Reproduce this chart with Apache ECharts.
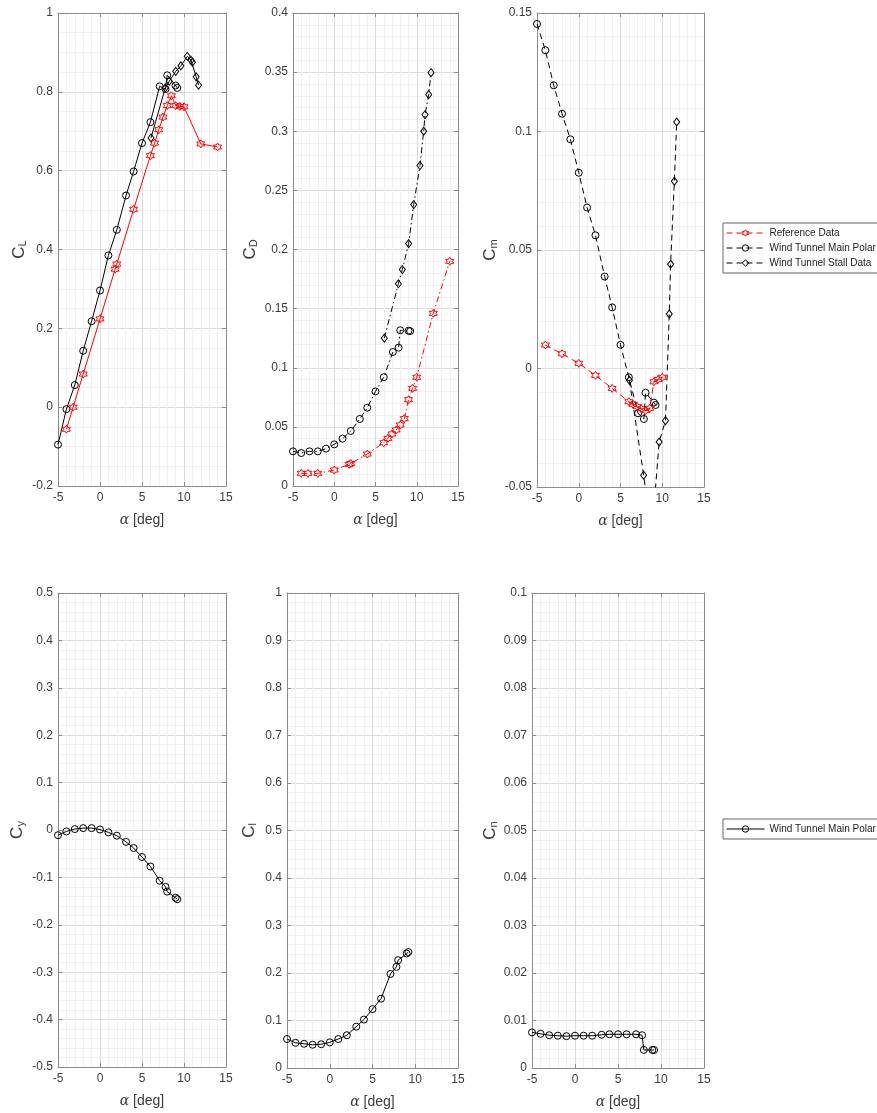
<!DOCTYPE html>
<html>
<head>
<meta charset="utf-8">
<script src="https://cdn.jsdelivr.net/npm/echarts@6/dist/echarts.min.js"></script>
<style>
  html, body { margin: 0; padding: 0; background: #fff; }
  #chart { width: 877px; height: 1113px; }
</style>
</head>
<body>
<div id="chart"></div>
<script>
// angle of attack, main polar
const alphaMain = [-5, -4, -3, -2, -1, 0, 1, 2, 3.1, 4, 5, 6, 7.1, 7.8, 8, 9, 9.2];
const liftMain = [-0.095, -0.005, 0.056, 0.143, 0.218, 0.296, 0.385, 0.45, 0.537, 0.598, 0.67, 0.723, 0.814, 0.807, 0.842, 0.816, 0.81];
const dragMain = [0.0293, 0.0279, 0.0293, 0.0293, 0.0316, 0.0352, 0.040, 0.0465, 0.0567, 0.0662, 0.080, 0.092, 0.1133, 0.117, 0.1317, 0.1313, 0.131];
const pitchMain = [0.1454, 0.1343, 0.1195, 0.1075, 0.0967, 0.0826, 0.0679, 0.0562, 0.0388, 0.0258, 0.010, -0.0037, -0.0189, -0.0213, -0.0102, -0.0144, -0.0154];
const sideMain = [-0.011, -0.003, 0.002, 0.004, 0.004, 0.001, -0.005, -0.012, -0.025, -0.038, -0.057, -0.077, -0.107, -0.12, -0.13, -0.143, -0.146];
const rollMain = [0.061, 0.053, 0.051, 0.049, 0.050, 0.054, 0.061, 0.069, 0.087, 0.102, 0.124, 0.146, 0.198, 0.213, 0.227, 0.241, 0.244];
const yawMain = [0.0075, 0.0072, 0.0069, 0.0068, 0.0067, 0.0068, 0.0068, 0.0068, 0.007, 0.0071, 0.0071, 0.0071, 0.0071, 0.0069, 0.0038, 0.0038, 0.0038];

// stall data
const alphaStall = [6.07, 7.77, 8.25, 9.02, 9.63, 10.39, 10.84, 11.0, 11.45, 11.73];
const liftStall = [0.683, 0.81, 0.827, 0.852, 0.866, 0.89, 0.88, 0.875, 0.838, 0.817];
const dragStall = [0.125, 0.171, 0.183, 0.205, 0.238, 0.271, 0.300, 0.314, 0.331, 0.3495];
const pitchStall = [-0.005, -0.045, -0.058, -0.058, -0.031, -0.022, 0.023, 0.044, 0.079, 0.104];

// reference data
const alphaRef = [-4, -3.2, -2, 0, 1.8, 2, 4, 6, 6.5, 7, 7.5, 8, 8.5, 9, 9.5, 10, 12, 14];
const liftRef = [-0.056, 0, 0.084, 0.224, 0.35, 0.363, 0.502, 0.638, 0.67, 0.704, 0.736, 0.765, 0.79, 0.765, 0.763, 0.762, 0.668, 0.66];
const dragRef = [0.0107, 0.0107, 0.0107, 0.0135, 0.0183, 0.019, 0.027, 0.0366, 0.0403, 0.044, 0.0474, 0.0516, 0.057, 0.073, 0.0826, 0.092, 0.146, 0.19];
const alphaRefCm = [-4, -2, 0, 2, 4, 6, 6.5, 7, 7.5, 8, 8.5, 9, 9.5, 10];
const pitchRef = [0.0099, 0.0062, 0.0022, -0.0029, -0.0084, -0.014, -0.0151, -0.0161, -0.017, -0.0178, -0.0168, -0.0056, -0.0046, -0.0037];

const REF = 'Reference Data';
const MAIN = 'Wind Tunnel Main Polar';
const STALL = 'Wind Tunnel Stall Data';

const FONT = 'Liberation Sans';
const AXIS_COLOR = '#8c8c8c';
const HEXAGRAM = 'path://M50,0L64.4,25L93.3,25L78.9,50L93.3,75L64.4,75L50,100L35.6,75L6.7,75L21.1,50L6.7,25L35.6,25Z';
const DASH = [6, 4];
const DASHDOT = [6, 3, 1.5, 3];

const pairs = (xs, ys) => xs.map((x, i) => [x, ys[i]]);

// panels: grid box, y range, label subscript
const panels = [
  { box: { left: 58, top: 13, width: 168, height: 473 }, min: -0.2, max: 1, interval: 0.2, minor: 4, sub: 'L', gap: 30 },
  { box: { left: 293, top: 13, width: 165, height: 473 }, min: 0, max: 0.4, interval: 0.05, minor: 5, sub: 'D', gap: 34 },
  { box: { left: 537, top: 13, width: 167, height: 474 }, min: -0.05, max: 0.15, interval: 0.05, minor: 5, sub: 'm', gap: 38 },
  { box: { left: 58, top: 593, width: 168, height: 474 }, min: -0.5, max: 0.5, interval: 0.1, minor: 5, sub: 'y', gap: 32 },
  { box: { left: 287, top: 593, width: 171, height: 475 }, min: 0, max: 1, interval: 0.1, minor: 5, sub: 'l', gap: 29 },
  { box: { left: 532, top: 593, width: 172, height: 475 }, min: 0, max: 0.1, interval: 0.01, minor: 5, sub: 'n', gap: 33 }
];

const makeXAxis = (g, top) => ({
  type: 'value', gridIndex: g, min: -5, max: 15, interval: 5,
  position: top ? 'top' : 'bottom',
  axisLine: { show: true, onZero: false, lineStyle: { color: AXIS_COLOR } },
  axisTick: { show: true, inside: true, length: 4, lineStyle: { color: AXIS_COLOR } },
  axisLabel: { show: !top, color: '#3c3c3c', fontSize: 12, fontFamily: FONT, margin: 6 },
  splitLine: { show: !top, lineStyle: { color: '#dcdcdc' } },
  minorTick: { show: false, splitNumber: 5 },
  minorSplitLine: { show: !top, lineStyle: { color: '#f0f0f0' } },
  name: top ? '' : '{a|α} [deg]',
  nameLocation: 'middle',
  nameGap: 27,
  nameTextStyle: {
    color: '#3c3c3c', fontSize: 14, fontFamily: FONT,
    rich: { a: { fontFamily: 'DejaVu Serif', fontStyle: 'italic', fontSize: 14, color: '#3c3c3c' } }
  }
});

const makeYAxis = (g, p, right) => ({
  type: 'value', gridIndex: g, min: p.min, max: p.max, interval: p.interval,
  position: right ? 'right' : 'left',
  axisLine: { show: true, onZero: false, lineStyle: { color: AXIS_COLOR } },
  axisTick: { show: true, inside: true, length: 4, lineStyle: { color: AXIS_COLOR } },
  axisLabel: { show: !right, color: '#3c3c3c', fontSize: 12, fontFamily: FONT, margin: 5 },
  splitLine: { show: !right, lineStyle: { color: '#dcdcdc' } },
  minorTick: { show: false, splitNumber: p.minor },
  minorSplitLine: { show: !right, lineStyle: { color: '#f0f0f0' } },
  name: right ? '' : '{c|C}{s|' + p.sub + '}',
  nameLocation: 'middle',
  nameRotate: 90,
  nameGap: p.gap,
  nameTextStyle: {
    rich: {
      c: { fontSize: 17, lineHeight: 17, verticalAlign: 'top', color: '#3c3c3c', fontFamily: FONT },
      s: { fontSize: 11, lineHeight: 11, verticalAlign: 'bottom', padding: [11, 0, 0, 0], color: '#3c3c3c', fontFamily: FONT }
    }
  }
});

const series = (name, g, data, color, symbol, size, dash) => ({
  type: 'line', name, xAxisIndex: 2 * g, yAxisIndex: 2 * g, data,
  symbol, symbolSize: size, showAllSymbol: true, clip: true,
  lineStyle: { color, width: 1, type: dash },
  itemStyle: { color: 'rgba(0,0,0,0)', borderColor: color, borderWidth: 1 },
  emphasis: { disabled: true },
  z: name === REF ? 3 : 2
});

const legendItem = (name, type) => ({
  name,
  lineStyle: { type, width: 1 },
  itemStyle: { borderWidth: 1 }
});

const getOptions = () => {
  const xAxis = [];
  const yAxis = [];
  panels.forEach((p, g) => {
    xAxis.push(makeXAxis(g, false), makeXAxis(g, true));
    yAxis.push(makeYAxis(g, p, false), makeYAxis(g, p, true));
  });
  return {
    animation: false,
    backgroundColor: '#fff',
    grid: panels.map(p => Object.assign({ containLabel: false }, p.box)),
    xAxis,
    yAxis,
    legend: [
      {
        left: 723, top: 223, orient: 'vertical', selectedMode: false,
        itemWidth: 38, itemHeight: 8, itemGap: 5,
        padding: [5, 6, 5, 3],
        borderColor: '#666', borderWidth: 1,
        textStyle: { fontSize: 10, fontFamily: FONT, color: '#222' },
        data: [legendItem(REF, DASH), legendItem(MAIN, DASH), legendItem(STALL, DASH)]
      },
      {
        left: 723, top: 819, orient: 'vertical', selectedMode: false,
        itemWidth: 38, itemHeight: 8,
        padding: [5, 6, 5, 3],
        borderColor: '#666', borderWidth: 1,
        textStyle: { fontSize: 10, fontFamily: FONT, color: '#222' },
        data: [legendItem(MAIN, 'solid')]
      }
    ],
    series: [
      // lift
      series(REF, 0, pairs(alphaRef, liftRef), '#ff0000', HEXAGRAM, 8, 'solid'),
      series(MAIN, 0, pairs(alphaMain, liftMain), '#000', 'circle', 7, 'solid'),
      series(STALL, 0, pairs(alphaStall, liftStall), '#000', 'diamond', [6, 8], 'solid'),
      // drag
      series(REF, 1, pairs(alphaRef, dragRef), '#ff0000', HEXAGRAM, 8, DASHDOT),
      series(MAIN, 1, pairs(alphaMain, dragMain), '#000', 'circle', 7, DASHDOT),
      series(STALL, 1, pairs(alphaStall, dragStall), '#000', 'diamond', [6, 8], DASHDOT),
      // pitching moment
      series(REF, 2, pairs(alphaRefCm, pitchRef), '#ff0000', HEXAGRAM, 8, DASH),
      series(MAIN, 2, pairs(alphaMain, pitchMain), '#000', 'circle', 7, DASH),
      series(STALL, 2, pairs(alphaStall, pitchStall), '#000', 'diamond', [6, 8], DASH),
      // side force, rolling, yawing
      series(MAIN, 3, pairs(alphaMain, sideMain), '#000', 'circle', 7, 'solid'),
      series(MAIN, 4, pairs(alphaMain, rollMain), '#000', 'circle', 7, 'solid'),
      series(MAIN, 5, pairs(alphaMain, yawMain), '#000', 'circle', 7, 'solid')
    ]
  };
};

window.addEventListener('load', () => {
  const chart = echarts.init(document.getElementById('chart'), null, { renderer: 'canvas' });
  chart.setOption(getOptions());
});
</script>
</body>
</html>
